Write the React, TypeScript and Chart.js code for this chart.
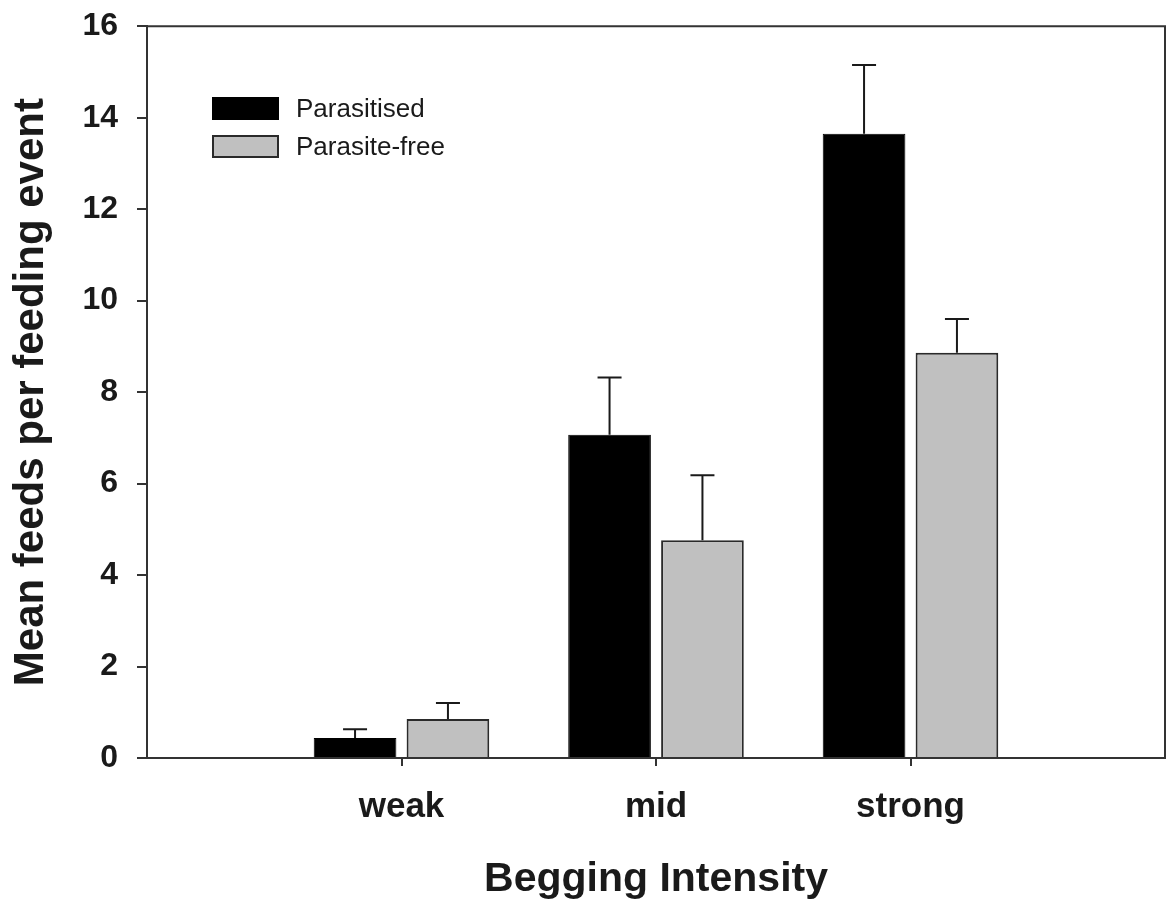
import React, { useEffect, useRef } from "react";
import { Chart, registerables } from "chart.js";

Chart.register(...registerables);

const categories = ["weak", "mid", "strong"];
const parasitised = [0.44, 7.07, 13.65];
const parasitisedSE = [0.19, 1.25, 1.5];
const parasiteFree = [0.85, 4.76, 8.86];
const parasiteFreeSE = [0.35, 1.42, 0.74];
const yTicks = [0, 2, 4, 6, 8, 10, 12, 14, 16];

const FONT = '"Liberation Sans", Arial, Helvetica, sans-serif';
const INK = "#1a1a1a";
const SHIFT = 12; // canvas is drawn 12px higher than the page top

// pad the axis with one empty slot on each side
const labels = ["", ...categories, ""];
const pad = (arr: number[]) => [null, ...arr, null];

const extrasPlugin = {
  id: "extras",
  afterDatasetsDraw(chart: any) {
    const ctx = chart.ctx;
    const yScale = chart.scales.y;
    const ses = [parasitisedSE, parasiteFreeSE];
    ctx.save();
    ctx.strokeStyle = INK;
    ctx.lineWidth = 2;
    chart.data.datasets.forEach((ds: any, di: number) => {
      const meta = chart.getDatasetMeta(di);
      meta.data.forEach((el: any, i: number) => {
        const v = ds.data[i];
        if (v == null) return;
        const se = ses[di][i - 1];
        const yTop = yScale.getPixelForValue(v + se);
        ctx.beginPath();
        ctx.moveTo(el.x, el.y);
        ctx.lineTo(el.x, yTop);
        ctx.moveTo(el.x - 12, yTop);
        ctx.lineTo(el.x + 12, yTop);
        ctx.stroke();
      });
    });
    ctx.restore();
  },
  afterDraw(chart: any) {
    const ctx = chart.ctx;
    const a = chart.chartArea;
    ctx.save();
    ctx.strokeStyle = "#333";
    ctx.lineWidth = 2;
    ctx.beginPath();
    ctx.moveTo(a.left, a.top);
    ctx.lineTo(a.right, a.top);
    ctx.lineTo(a.right, a.bottom);
    ctx.stroke();
    // legend
    const boxX = 212;
    const boxW = 67;
    const boxH = 23;
    const rows = [97 + SHIFT, 135 + SHIFT];
    ctx.font = `26px ${FONT}`;
    ctx.textBaseline = "middle";
    ctx.textAlign = "left";
    chart.data.datasets.forEach((ds: any, di: number) => {
      const y = rows[di];
      ctx.fillStyle = ds.backgroundColor;
      ctx.fillRect(boxX, y, boxW, boxH);
      ctx.strokeStyle = ds.borderColor;
      ctx.lineWidth = 2;
      ctx.strokeRect(boxX + 1, y + 1, boxW - 2, boxH - 2);
      ctx.fillStyle = INK;
      ctx.fillText(ds.label, 296, y + boxH / 2 + 1);
    });
    ctx.restore();
  },
};

export default function App() {
  const ref = useRef<HTMLCanvasElement | null>(null);
  useEffect(() => {
    if (!ref.current) return;
    Chart.defaults.font.family = FONT;
    Chart.defaults.color = INK;
    const chart = new Chart(ref.current, {
      type: "bar",
      data: {
        labels,
        datasets: [
          {
            label: "Parasitised",
            data: pad(parasitised) as any,
            backgroundColor: "#000000",
            borderColor: "#000000",
            borderWidth: 1,
            categoryPercentage: 0.73,
            barPercentage: 0.89,
          },
          {
            label: "Parasite-free",
            data: pad(parasiteFree) as any,
            backgroundColor: "#c0c0c0",
            borderColor: "#2a2a2a",
            borderWidth: 2,
            categoryPercentage: 0.73,
            barPercentage: 0.89,
          },
        ],
      },
      options: {
        responsive: false,
        animation: false,
        events: [],
        layout: { padding: { left: 0, right: 2, top: 0, bottom: 0 } },
        plugins: {
          legend: { display: false },
          tooltip: { enabled: false },
        },
        scales: {
          x: {
            type: "category",
            offset: false,
            grid: {
              display: true,
              offset: false,
              drawOnChartArea: false,
              drawTicks: true,
              tickLength: 8,
              lineWidth: 2,
              color: (c: any) => (c.index === 0 || c.index === labels.length - 1 ? "rgba(0,0,0,0)" : "#333"),
            },
            border: { display: true, color: "#333", width: 2 },
            ticks: {
              font: { size: 35, weight: "bold", lineHeight: 2.34 },
              color: INK,
              padding: 0,
              autoSkip: false,
              maxRotation: 0,
            },
            title: {
              display: true,
              text: "Begging Intensity",
              font: { size: 41, weight: "bold" },
              color: INK,
              padding: { top: 0, bottom: -4 },
            },
            afterFit: (s: any) => {
              s.height = 142;
            },
          },
          y: {
            min: 0,
            max: 16,
            afterBuildTicks: (s: any) => {
              s.ticks = yTicks.map((v) => ({ value: v }));
            },
            grid: {
              display: true,
              drawOnChartArea: false,
              drawTicks: true,
              tickLength: 10,
              lineWidth: 2,
              color: "#333",
            },
            border: { display: true, color: "#333", width: 2 },
            ticks: {
              font: { size: 32, weight: "bold" },
              color: INK,
              padding: 19,
            },
            title: {
              display: true,
              text: "Mean feeds per feeding event",
              font: { size: 42, weight: "bold" },
              color: INK,
              padding: { top: 6, bottom: 0 },
            },
            afterFit: (s: any) => {
              s.width = 147;
            },
          },
        },
      },
      plugins: [extrasPlugin],
    });
    return () => chart.destroy();
  }, []);
  return (
    <div style={{ position: "absolute", left: 0, top: 0, width: 1167, height: 900, overflow: "hidden", background: "#fff" }}>
      <canvas ref={ref} width={1167} height={900 + SHIFT} style={{ display: "block", marginTop: -SHIFT }} />
    </div>
  );
}
